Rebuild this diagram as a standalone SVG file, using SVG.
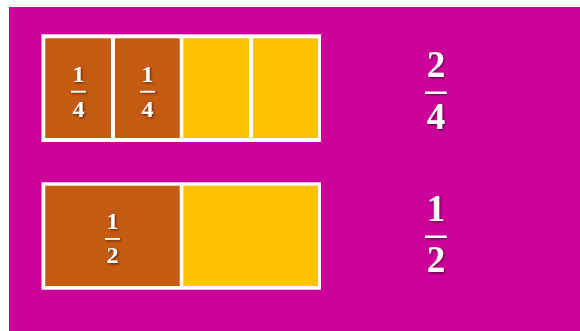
<svg xmlns="http://www.w3.org/2000/svg" width="580" height="331" viewBox="0 0 580 331">
<defs>
<filter id="sh" x="-30%" y="-30%" width="160%" height="160%">
<feDropShadow dx="1.2" dy="1.2" stdDeviation="0.8" flood-color="#000" flood-opacity="0.55"/>
</filter>
<style>
.frame{fill:#ffffff}
.brown{fill:#C55A11}
.yellow{fill:#FFC000}
.t{font-family:"Liberation Serif","DejaVu Serif",serif;font-weight:bold;fill:#ffffff;text-anchor:middle}
.s{font-size:24px}
.b{font-size:37px}
.bar{fill:#ffffff}
</style>
</defs>
<rect width="580" height="331" fill="#ffffff"/>
<rect x="9" y="7" width="571" height="324" fill="#CC0099"/>
<g id="quarters">
<rect class="frame" x="41.5" y="34.3" width="279.5" height="107.7"/>
<rect class="brown" x="45.3" y="38.3" width="65.7" height="99.7"/>
<rect class="brown" x="115" y="38.3" width="64.7" height="99.7"/>
<rect class="yellow" x="183.3" y="38.3" width="65.7" height="99.7"/>
<rect class="yellow" x="253" y="38.3" width="65" height="99.7"/>
<g filter="url(#sh)">
<text class="t s" x="78.5" y="81.7">1</text>
<rect class="bar" x="71" y="90.8" width="15" height="1.8"/>
<text class="t s" x="78.5" y="116.7">4</text>
<text class="t s" x="147.5" y="81.7">1</text>
<rect class="bar" x="140" y="90.8" width="15" height="1.8"/>
<text class="t s" x="147.5" y="116.7">4</text>
</g>
</g>
<g id="halves">
<rect class="frame" x="41.5" y="182.3" width="279.5" height="107.4"/>
<rect class="brown" x="45.3" y="185.7" width="134.4" height="100.3"/>
<rect class="yellow" x="183.3" y="185.7" width="134.7" height="100.3"/>
<g filter="url(#sh)">
<text class="t s" x="112.5" y="228.5">1</text>
<rect class="bar" x="105" y="238" width="15" height="1.8"/>
<text class="t s" x="112.5" y="263">2</text>
</g>
</g>
<g id="label-2-4" filter="url(#sh)">
<text class="t b" x="436" y="76.7">2</text>
<rect class="bar" x="425" y="91.5" width="21.7" height="2.5"/>
<text class="t b" x="436" y="129.3">4</text>
</g>
<g id="label-1-2" filter="url(#sh)">
<text class="t b" x="436" y="220.7">1</text>
<rect class="bar" x="425" y="235.5" width="21.7" height="2.5"/>
<text class="t b" x="436" y="271.7">2</text>
</g>
</svg>
